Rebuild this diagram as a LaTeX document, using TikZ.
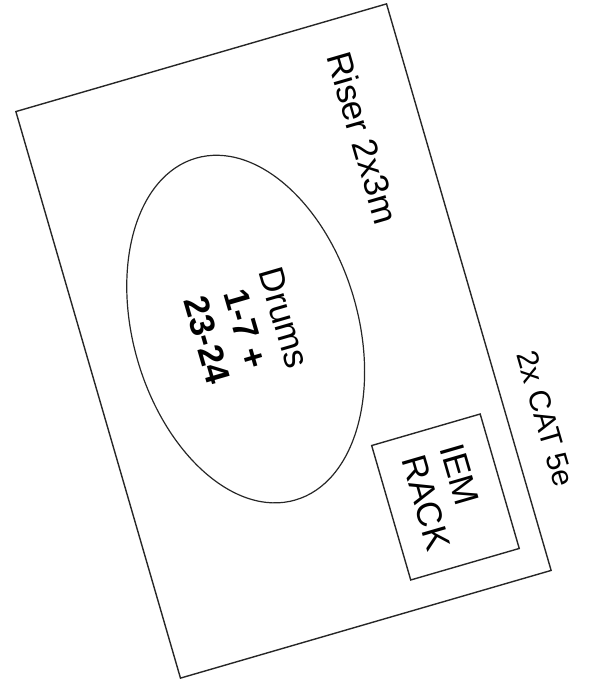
\documentclass[tikz,border=0pt]{standalone}
\usepackage{fontspec}
\setmainfont{Liberation Sans}
\usetikzlibrary{shapes.geometric}
\begin{document}
\begin{tikzpicture}[x=1pt,y=1pt,
  outline/.style={draw=black!85,line width=1.4pt},
  bigtext/.style={font=\fontsize{35}{40}\selectfont},
  smalltext/.style={font=\fontsize{30}{34}\selectfont}]
\useasboundingbox (0,0) rectangle (598,682);
\begin{scope}[shift={(283.5,341)},rotate=-73.8,every node/.append style={transform shape}]
  \node[outline,rectangle,minimum width=590pt,minimum height=386pt,inner sep=0pt] (riser) at (0,0) {};
  \node[bigtext,inner sep=0pt] (riserlabel) at (-173,133) {Riser 2x3m};
  \node[outline,line width=1.2pt,ellipse,minimum width=356pt,minimum height=225pt,inner sep=0pt,align=center,bigtext] (drums) at (-22,-33)
    {Drums\\\textbf{1-7 +}\\\textbf{23-24}};
  \node[outline,rectangle,minimum width=140pt,minimum height=113pt,inner sep=0pt,align=left,bigtext] (rack) at (195,112)
    {IEM\\RACK};
  \node[smalltext,inner sep=0pt] (cat) at (148,230) {2x CAT 5e};
\end{scope}
\end{tikzpicture}
\end{document}
